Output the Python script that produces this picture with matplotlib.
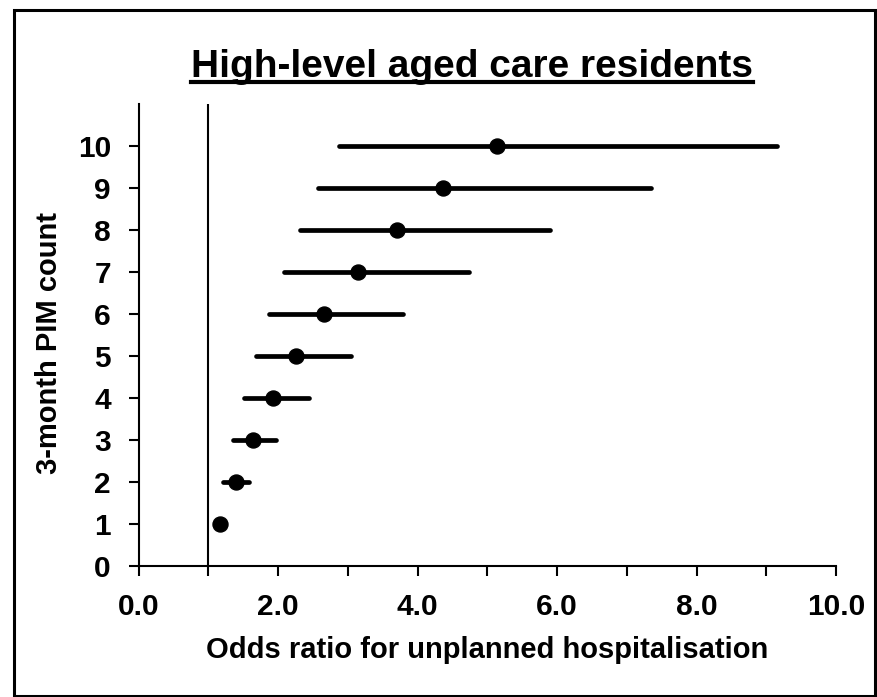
import matplotlib
matplotlib.use("Agg")
import numpy as np
import matplotlib.pyplot as plt
from matplotlib import font_manager
from matplotlib.patches import Rectangle
from matplotlib.lines import Line2D

# PIM count vs odds ratio (95% CI)
pim_count = [1, 2, 3, 4, 5, 6, 7, 8, 9, 10]
odds_ratio = [1.17, 1.39, 1.64, 1.92, 2.26, 2.66, 3.15, 3.71, 4.37, 5.14]
ci_low = [np.nan, 1.21, 1.35, 1.51, 1.68, 1.87, 2.08, 2.32, 2.57, 2.87]
ci_high = [np.nan, 1.58, 1.97, 2.44, 3.05, 3.79, 4.73, 5.90, 7.35, 9.16]

x_ticks = list(range(0, 11))
x_ticklabels = [f"{v:.1f}" if v % 2 == 0 else "" for v in x_ticks]
y_ticks = list(range(0, 11))

title = "High-level aged care residents"
xlabel = "Odds ratio for unplanned hospitalisation"
ylabel = "3-month PIM count"

installed = {f.name for f in font_manager.fontManager.ttflist}
plt.rcParams['font.family'] = ['Liberation Sans', 'DejaVu Sans']
plt.rcParams['font.weight'] = 'bold'

W, H = 877, 697
fig = plt.figure(figsize=(W / 100, H / 100), dpi=100)
ax = fig.add_axes([138.7 / W, 1 - 565.7 / H, 697.3 / W, 462.0 / H])

# reference line at OR = 1
ax.axvline(1, color='black', lw=1.5, zorder=1)

ax.hlines(pim_count, ci_low, ci_high, color='black', lw=3.4,
          capstyle='round', zorder=2)
ax.plot(odds_ratio, pim_count, 'o', color='black', markersize=10.8, zorder=3)

ax.set_xlim(0, 10)
ax.set_ylim(0, 11)
ax.set_xticks(x_ticks)
ax.set_xticklabels(x_ticklabels)
ax.set_yticks(y_ticks)
ax.set_yticklabels([str(v) for v in y_ticks])
ax.tick_params(direction='out', length=7, width=1.5, labelsize=21.5, pad=13)
for lab in ax.get_xticklabels() + ax.get_yticklabels():
    lab.set_fontweight('bold')

for s in ['top', 'right']:
    ax.spines[s].set_visible(False)
for s in ['left', 'bottom']:
    ax.spines[s].set_linewidth(1.5)

ax.set_xlabel(xlabel, fontsize=21, fontweight='bold')
ax.xaxis.set_label_coords(0.5, -0.153)
ax.set_ylabel(ylabel, fontsize=21, fontweight='bold')
ax.yaxis.set_label_coords(-0.108, 0.481)

# title, underlined
if 'Liberation Sans Narrow' in installed:
    t = fig.text(472 / W, 1 - 77 / H, title, fontsize=33, fontweight='bold',
                 family=['Liberation Sans Narrow'], ha='center', va='baseline')
else:
    t = fig.text(472 / W, 1 - 77 / H, title, fontsize=28, fontweight='bold',
                 ha='center', va='baseline')
fig.canvas.draw()
bb = t.get_window_extent()
yu = 1 - 82 / H
fig.add_artist(Line2D([bb.x0 / W, bb.x1 / W], [yu, yu], color='black',
                      lw=3, transform=fig.transFigure))

# outer frame
fig.add_artist(Rectangle((13.5 / W, 1.5 / H), (875 - 13.5) / W, (687.5 - 1.5) / H,
                         fill=False, ec='black', lw=2.2,
                         transform=fig.transFigure))

fig.savefig("out.png", dpi=100)
